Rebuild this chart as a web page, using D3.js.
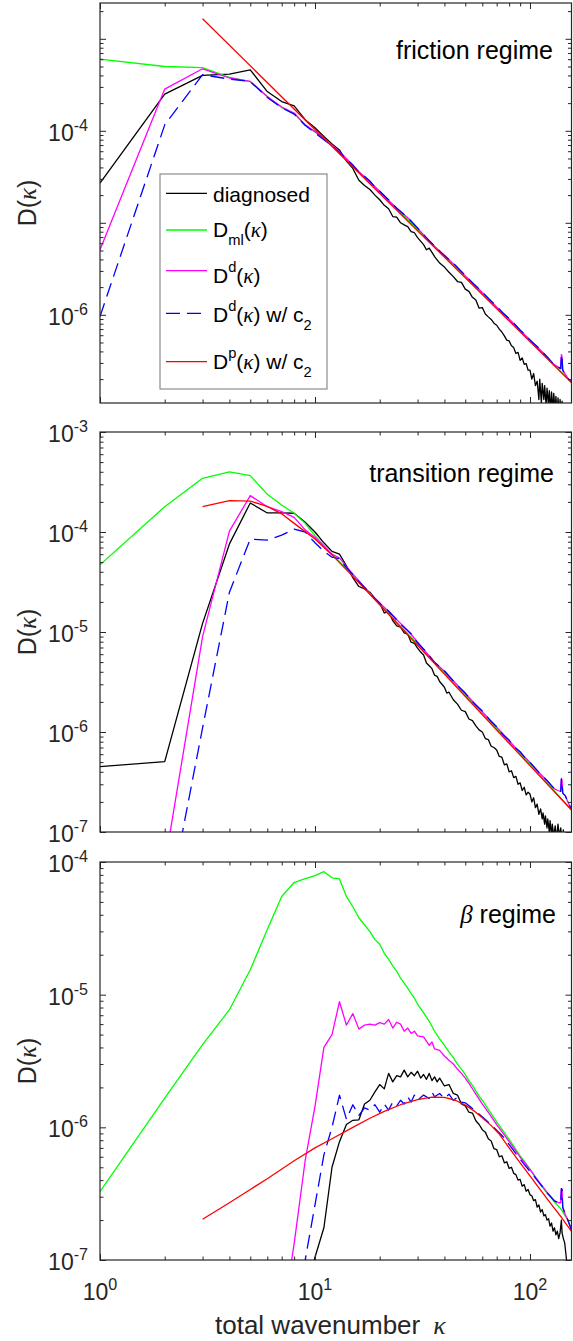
<!DOCTYPE html>
<html>
<head>
<meta charset="utf-8">
<title>D(kappa) spectra</title>
<script src="https://cdn.jsdelivr.net/npm/d3@7/dist/d3.min.js"></script>
<style>
  html, body { margin: 0; padding: 0; background: #fff; }
  #chart svg { display: block; }
  text { font-family: 'Liberation Sans', Arial, Helvetica, sans-serif; }
</style>
</head>
<body>
<div id="chart"></div>
<script>
// DATA  (each series is a list of [kappa, D(kappa)])
const kappa = '\u03ba'
const seriesNames = [
  'diagnosed',
  'D_{ml}(' + kappa + ')',
  'D^{d}(' + kappa + ')',
  'D^{d}(' + kappa + ') w/ c_{2}',
  'D^{p}(' + kappa + ') w/ c_{2}'
]
const regimeTitles = ['friction regime', 'transition regime', '\u03b2 regime']
const xDomain = [1, 156]
const xTickExponents = [0, 1, 2]
const frictionYDomain = [1.1e-7, 2.45e-3]
const transitionYDomain = [1e-7, 1e-3]
const betaYDomain = [1e-7, 1e-4]
const frictionYTickExponents = [-4, -6]
const transitionYTickExponents = [-3, -4, -5, -6, -7]
const betaYTickExponents = [-4, -5, -6, -7]

// friction regime
const frictionDiagnosed = [[1,2.7e-5],[2,2.5e-4],[3,4.0e-4],[4,4.13e-4],[5,4.6e-4],[6,2.67e-4],[7,2.08e-4],[8,1.87e-4],[9,1.32e-4],[10,1.08e-4],
  [11,8.7e-5],[12,7.2e-5],[13,6.2e-5],[14,4.7e-5],[15,3.9e-5],[16,2.9e-5],[17,2.55e-5],[18,2.3e-5],[19,2.0e-5],[20,1.78e-5],
  [21,1.55e-5],[22,1.42e-5],[23,1.17e-5],[24,1.15e-5],[25,1.0e-5],[26,9.5e-6],[27,9.1e-6],[28,8.0e-6],[29,7.8e-6],[30,6.9e-6],
  [32,5.8e-6],[33,5.1e-6],[34,5.3e-6],[36,4.3e-6],[38,3.65e-6],[40,3.3e-6],[42,2.9e-6],[44,2.6e-6],[46,2.3e-6],[48,2.25e-6],
  [50,1.9e-6],[52,1.8e-6],[54,1.55e-6],[56,1.45e-6],[58,1.18e-6],[60,1.2e-6],[62,1.02e-6],[64,9.5e-7],[66,8.9e-7],[68,8.1e-7],
  [70,7.7e-7],[72,7.0e-7],[74,6.5e-7],[76,5.9e-7],[78,5.3e-7],[80,5.2e-7],[82,4.6e-7],[84,4.4e-7],[86,3.8e-7],[88,3.9e-7],
  [90,3.2e-7],[92,3.4e-7],[94,2.9e-7],[96,2.95e-7],[98,2.5e-7],[100,2.5e-7],[102,2.0e-7],[104,2.3e-7],[106,1.7e-7],[108,1.9e-7],
  [110,1.2e-7],[111,2.0e-7],[113,1.1e-7],[114,1.8e-7],[116,1.2e-7],[117,1.7e-7],[119,1.0e-7],[120,1.6e-7],[122,1.05e-7],[123,1.5e-7],
  [125,9e-8],[126,1.45e-7],[128,9e-8],[129,1.4e-7],[131,8.5e-8],[132,1.3e-7],[134,8e-8],[135,1.25e-7],[137,8e-8],[138,1.2e-7],
  [140,7.5e-8],[141,1.15e-7],[143,7e-8],[146,8e-8],[150,6e-8],[156,5e-8]]
const frictionMl = [[1,6.0e-4],[2,5.0e-4],[3,4.87e-4],[4,3.8e-4],[5,3.42e-4],[6,2.34e-4],[7,1.79e-4],[8,1.54e-4],[9,1.15e-4],[10,9.7e-5],
  [12,6.9e-5],[15,4.15e-5],[20,2.15e-5],[30,8.5e-6],[50,2.6e-6],[100,5.2e-7],[156,1.84e-7]]
const frictionDd = [[1,5.1e-6],[2,2.84e-4],[3,4.72e-4],[4,3.75e-4],[5,3.44e-4],[6,2.36e-4],[7,1.81e-4],[8,1.56e-4],[9,1.16e-4],[10,9.8e-5],
  [11,8.2e-5],[12,7.0e-5],[13,5.9e-5],[14,5.0e-5],[15,4.2e-5],[16,3.6e-5],[18,2.8e-5],[20,2.2e-5],[22,1.75e-5],[24,1.45e-5],
  [26,1.22e-5],[28,1.05e-5],[30,8.7e-6],[33,6.9e-6],[36,5.5e-6],[40,4.45e-6],[45,3.4e-6],[50,2.65e-6],[55,2.15e-6],[60,1.75e-6],
  [65,1.45e-6],[70,1.22e-6],[75,1.05e-6],[80,9.0e-7],[85,7.8e-7],[90,6.85e-7],[95,6.0e-7],[100,5.35e-7],[110,4.3e-7],[120,3.5e-7],
  [128,2.95e-7],[132,2.8e-7],[136,2.68e-7],[139,2.6e-7],[140,3.7e-7],[141,3.5e-7],[142,2.5e-7],[146,2.25e-7],[150,2.05e-7],[156,1.84e-7]]
const frictionDdC2 = [[1,9.6e-7],[2,1.16e-4],[3,4.07e-4],[4,3.65e-4],[5,3.44e-4],[6,2.3e-4],[7,1.78e-4],[8,1.52e-4],[9,1.15e-4],[10,9.5e-5],
  [11,8.0e-5],[12,6.9e-5],[13,5.8e-5],[14,5.0e-5],[15,4.25e-5],[16,3.55e-5],[17,3.2e-5],[18,2.85e-5],[19,2.45e-5],[20,2.2e-5],
  [22,1.78e-5],[24,1.44e-5],[26,1.23e-5],[28,1.04e-5],[30,8.8e-6],[33,6.85e-6],[36,5.6e-6],[40,4.4e-6],[45,3.45e-6],[50,2.68e-6],
  [55,2.13e-6],[60,1.77e-6],[65,1.46e-6],[70,1.23e-6],[75,1.04e-6],[80,9.1e-7],[85,7.9e-7],[90,6.8e-7],[95,6.05e-7],[100,5.3e-7],
  [110,4.35e-7],[120,3.5e-7],[128,2.95e-7],[132,2.8e-7],[136,2.68e-7],[139,2.6e-7],[140,3.7e-7],[141,3.5e-7],[142,2.5e-7],[146,2.25e-7],
  [150,2.05e-7],[156,1.84e-7]]
const frictionDpC2 = [[3,1.65e-3],[156,1.84e-7]]

// transition regime
const transitionDiagnosed = [[1,4.5e-7],[2,5.05e-7],[3,1.22e-5],[4,7.6e-5],[5,1.95e-4],[6,1.55e-4],[7,1.55e-4],[8,1.54e-4],[9,1.25e-4],[10,1.0e-4],
  [11,7.8e-5],[12,6.4e-5],[13,6.0e-5],[14,4.6e-5],[15,3.5e-5],[16,2.85e-5],[17,2.7e-5],[18,2.5e-5],[19,2.15e-5],[20,1.95e-5],
  [21,1.55e-5],[22,1.6e-5],[23,1.3e-5],[24,1.15e-5],[25,1.12e-5],[26,9.8e-6],[27,9.5e-6],[28,7.9e-6],[29,7.7e-6],[30,6.9e-6],
  [31,6.3e-6],[32,5.9e-6],[33,4.9e-6],[34,4.6e-6],[35,4.3e-6],[36,3.7e-6],[37,3.6e-6],[38,3.2e-6],[40,2.8e-6],[41,2.45e-6],
  [42,2.5e-6],[44,2.1e-6],[46,1.9e-6],[48,1.65e-6],[50,1.6e-6],[52,1.35e-6],[54,1.3e-6],[56,1.15e-6],[58,1.05e-6],[60,1.0e-6],
  [62,8.6e-7],[64,8.4e-7],[66,7.2e-7],[68,7.0e-7],[70,6.6e-7],[72,5.7e-7],[74,5.6e-7],[76,4.7e-7],[78,4.8e-7],[80,4.0e-7],
  [82,4.1e-7],[84,3.5e-7],[86,3.6e-7],[88,3.0e-7],[90,3.1e-7],[92,2.6e-7],[94,2.8e-7],[96,2.35e-7],[98,2.5e-7],[100,2.4e-7],
  [102,2.0e-7],[104,2.2e-7],[106,1.75e-7],[108,1.9e-7],[110,1.5e-7],[112,1.7e-7],[114,1.35e-7],[115,1.55e-7],[117,1.2e-7],[118,1.45e-7],
  [120,1.1e-7],[121,1.35e-7],[123,1.0e-7],[124,1.3e-7],[126,9e-8],[127,1.2e-7],[129,9e-8],[131,1.15e-7],[133,8.5e-8],[135,1.2e-7],
  [137,9e-8],[139,1.1e-7],[141,8e-8],[143,1.05e-7],[145,7e-8],[150,6e-8],[156,5e-8]]
const transitionMl = [[1,4.7e-5],[2,1.79e-4],[3,3.44e-4],[4,4.0e-4],[5,3.66e-4],[6,2.38e-4],[7,1.86e-4],[8,1.54e-4],[9,1.22e-4],[10,9.2e-5],
  [12,6.0e-5],[15,3.7e-5],[20,1.9e-5],[30,7.6e-6],[50,2.35e-6],[100,4.8e-7],[156,1.66e-7]]
const transitionDd = [[2,4.7e-8],[3,9.0e-6],[4,1.02e-4],[5,2.31e-4],[6,1.79e-4],[7,1.6e-4],[8,1.4e-4],[9,1.05e-4],[10,8.8e-5],
  [11,7.2e-5],[12,6.0e-5],[13,5.5e-5],[14,4.5e-5],[16,3.25e-5],[18,2.45e-5],[20,1.95e-5],[22,1.6e-5],[25,1.22e-5],[28,9.5e-6],
  [30,7.9e-6],[33,6.2e-6],[36,5.0e-6],[40,4.05e-6],[45,3.1e-6],[50,2.42e-6],[55,1.95e-6],[60,1.6e-6],[65,1.33e-6],[70,1.12e-6],
  [75,9.5e-7],[80,8.2e-7],[85,7.1e-7],[90,6.3e-7],[95,5.55e-7],[100,4.95e-7],[110,3.95e-7],[120,3.25e-7],[130,2.7e-7],[135,2.6e-7],
  [139,2.55e-7],[140,3.4e-7],[141,3.3e-7],[142,2.45e-7],[146,2.3e-7],[150,2.0e-7],[156,1.68e-7]]
const transitionDdC2 = [[2,1.2e-8],[3,1.1e-6],[4,2.5e-5],[5,8.5e-5],[6,8.3e-5],[7,9.3e-5],[8,1.07e-4],[9,1.0e-4],[10,7.8e-5],
  [11,6.4e-5],[12,5.6e-5],[13,5.4e-5],[14,4.4e-5],[15,3.75e-5],[16,3.2e-5],[18,2.45e-5],[20,1.93e-5],[22,1.62e-5],[25,1.2e-5],
  [28,9.6e-6],[30,7.8e-6],[33,6.3e-6],[36,4.95e-6],[40,4.1e-6],[45,3.05e-6],[50,2.45e-6],[55,1.93e-6],[60,1.62e-6],[65,1.32e-6],
  [70,1.13e-6],[75,9.4e-7],[80,8.3e-7],[85,7.0e-7],[90,6.35e-7],[95,5.5e-7],[100,4.98e-7],[110,3.95e-7],[120,3.27e-7],[130,2.7e-7],
  [135,2.6e-7],[139,2.55e-7],[140,3.4e-7],[141,3.3e-7],[142,2.45e-7],[146,2.3e-7],[150,2.0e-7],[156,1.68e-7]]
const transitionDpC2 = [[3,1.79e-4],[4,2.06e-4],[5,2.04e-4],[6,1.8e-4],[7,1.52e-4],[8,1.22e-4],[10,8.5e-5],[12,5.9e-5],[15,3.6e-5],
  [20,1.87e-5],[156,1.66e-7]]

// beta regime
const betaDiagnosed = [[9,5e-8],[10,1.05e-7],[11,1.75e-7],[12,5.0e-7],[13,7.8e-7],[14,1.05e-6],[15,1.13e-6],[16,1.14e-6],[17,1.5e-6],[18,1.6e-6],
  [19,1.85e-6],[20,2.1e-6],[21,1.95e-6],[22,2.55e-6],[23,2.2e-6],[24,2.45e-6],[25,2.4e-6],[26,2.7e-6],[27,2.4e-6],[28,2.6e-6],
  [29,2.45e-6],[30,2.65e-6],[31,2.35e-6],[32,2.5e-6],[33,2.3e-6],[34,2.55e-6],[35,2.25e-6],[36,2.4e-6],[37,2.2e-6],[38,2.35e-6],
  [40,2.05e-6],[42,2.1e-6],[44,1.8e-6],[46,1.75e-6],[48,1.5e-6],[50,1.45e-6],[52,1.3e-6],[54,1.28e-6],[56,1.12e-6],[58,1.05e-6],
  [60,9.6e-7],[62,9.2e-7],[64,8.2e-7],[66,7.9e-7],[68,6.9e-7],[70,6.8e-7],[72,6.0e-7],[74,6.1e-7],[76,5.4e-7],[78,5.5e-7],
  [80,4.9e-7],[82,5.0e-7],[84,4.5e-7],[86,4.4e-7],[88,4.0e-7],[90,4.05e-7],[92,3.6e-7],[94,3.7e-7],[96,3.3e-7],[98,3.4e-7],
  [100,3.1e-7],[102,3.05e-7],[104,2.8e-7],[106,2.85e-7],[108,2.5e-7],[110,2.6e-7],[112,2.3e-7],[114,2.4e-7],[116,2.15e-7],[118,2.2e-7],
  [120,2.0e-7],[122,2.05e-7],[124,1.8e-7],[126,1.9e-7],[128,1.65e-7],[130,1.75e-7],[132,1.55e-7],[134,1.65e-7],[136,1.45e-7],[138,1.6e-7],
  [140,2.0e-7],[141,1.6e-7],[143,1.45e-7],[145,1.35e-7],[147,1.1e-7],[149,9e-8],[152,7e-8],[156,6e-8]]
const betaMl = [[1,3.27e-7],[2,1.66e-6],[3,4.2e-6],[4,7.7e-6],[5,1.54e-5],[6,3.1e-5],[7,5.5e-5],[8,7.0e-5],[9,7.5e-5],[10,7.9e-5],
  [11,8.45e-5],[12,7.6e-5],[13,7.45e-5],[14,5.5e-5],[15,4.6e-5],[16,3.8e-5],[17,3.35e-5],[18,3.0e-5],[19,2.6e-5],[20,2.4e-5],
  [21,2.05e-5],[22,1.85e-5],[23,1.65e-5],[24,1.5e-5],[25,1.33e-5],[26,1.22e-5],[27,1.12e-5],[28,1.02e-5],[29,9.4e-6],[30,8.5e-6],
  [32,7.3e-6],[34,6.3e-6],[36,5.3e-6],[38,4.65e-6],[40,4.15e-6],[42,3.7e-6],[44,3.35e-6],[46,3.0e-6],[48,2.75e-6],[50,2.5e-6],
  [52,2.25e-6],[54,2.07e-6],[56,1.88e-6],[58,1.72e-6],[60,1.6e-6],[63,1.42e-6],[66,1.27e-6],[70,1.1e-6],[75,9.4e-7],[80,8.1e-7],
  [85,7.0e-7],[90,6.1e-7],[95,5.45e-7],[100,4.85e-7],[110,3.85e-7],[120,3.2e-7],[130,2.75e-7],[140,2.4e-7],[150,2.0e-7],[156,1.68e-7]]
const betaDd = [[7,3.2e-8],[8,1.33e-7],[9,5.6e-7],[10,1.44e-6],[11,4.0e-6],[12,5.0e-6],[13,8.85e-6],[14,5.9e-6],[15,7.2e-6],[16,5.5e-6],
  [17,5.9e-6],[18,6.0e-6],[19,5.9e-6],[20,6.15e-6],[21,6.0e-6],[22,6.5e-6],[23,5.6e-6],[24,6.2e-6],[25,6.0e-6],[26,5.3e-6],
  [27,5.6e-6],[28,5.1e-6],[29,5.3e-6],[30,4.9e-6],[32,4.8e-6],[34,4.15e-6],[35,4.4e-6],[36,3.9e-6],[38,3.8e-6],[40,3.45e-6],
  [42,3.2e-6],[44,3.0e-6],[46,2.75e-6],[48,2.55e-6],[50,2.35e-6],[53,2.05e-6],[56,1.78e-6],[60,1.5e-6],[65,1.25e-6],[70,1.05e-6],
  [75,9.0e-7],[80,7.8e-7],[85,6.8e-7],[90,5.95e-7],[95,5.35e-7],[100,4.8e-7],[110,3.9e-7],[120,3.25e-7],[130,2.8e-7],[136,2.7e-7],
  [139,2.7e-7],[140,3.45e-7],[141,3.4e-7],[142,2.5e-7],[146,2.2e-7],[150,2.0e-7],[156,1.68e-7]]
const betaDdC2 = [[8,2e-8],[9,1.0e-7],[10,2.6e-7],[11,6.2e-7],[12,1.0e-6],[13,1.75e-6],[14,1.15e-6],[15,1.48e-6],[16,1.23e-6],[17,1.4e-6],
  [18,1.35e-6],[19,1.48e-6],[20,1.3e-6],[21,1.5e-6],[22,1.35e-6],[23,1.55e-6],[24,1.45e-6],[25,1.6e-6],[26,1.5e-6],[27,1.7e-6],
  [28,1.55e-6],[29,1.75e-6],[30,1.6e-6],[32,1.75e-6],[34,1.65e-6],[35,1.85e-6],[36,1.7e-6],[38,1.8e-6],[40,1.65e-6],[42,1.78e-6],
  [44,1.6e-6],[46,1.68e-6],[48,1.55e-6],[50,1.53e-6],[53,1.42e-6],[56,1.32e-6],[60,1.2e-6],[65,1.07e-6],[70,9.5e-7],[75,8.5e-7],
  [80,7.4e-7],[85,6.5e-7],[90,5.75e-7],[95,5.15e-7],[100,4.65e-7],[110,3.85e-7],[120,3.22e-7],[130,2.78e-7],[136,2.7e-7],[139,2.7e-7],
  [140,3.45e-7],[141,3.4e-7],[142,2.5e-7],[146,2.2e-7],[150,2.0e-7],[156,1.68e-7]]
const betaDpC2 = [[3,2.03e-7],[4,2.7e-7],[5,3.4e-7],[6,4.1e-7],[8,5.6e-7],[10,7.0e-7],[12,8.2e-7],[15,1.0e-6],[18,1.17e-6],[21,1.32e-6],
  [25,1.48e-6],[30,1.62e-6],[35,1.69e-6],[40,1.68e-6],[45,1.6e-6],[50,1.47e-6],[55,1.33e-6],[60,1.18e-6],[66,1.03e-6],[72,8.9e-7],
  [80,7.0e-7],[90,5.4e-7],[100,4.3e-7],[110,3.5e-7],[120,2.9e-7],[130,2.45e-7],[140,2.1e-7],[148,1.85e-7],[156,1.64e-7]]

// LAYOUT
let width = 573
let height = 1341
let margins = { left: 100, right: 1.5 }

let seriesStyles = [
  { color: '#000000', dash: null },
  { color: '#00ff00', dash: null },
  { color: '#ff00ff', dash: null },
  { color: '#0000ff', dash: '14,7' },
  { color: '#ff0000', dash: null }
]

let panels = [
  { top: 3, bottom: 403, titleX: 553, titleY: 59, yDomain: frictionYDomain, yExponents: frictionYTickExponents,
    series: [frictionDiagnosed, frictionMl, frictionDd, frictionDdC2, frictionDpC2] },
  { top: 432, bottom: 832, titleX: 554, titleY: 482, yDomain: transitionYDomain, yExponents: transitionYTickExponents,
    series: [transitionDiagnosed, transitionMl, transitionDd, transitionDdC2, transitionDpC2] },
  { top: 862, bottom: 1260, titleX: 556, titleY: 923, yDomain: betaYDomain, yExponents: betaYTickExponents,
    series: [betaDiagnosed, betaMl, betaDd, betaDdC2, betaDpC2] }
]

let legendRows = [
  { lineY: 193.3, textY: 201.7 },
  { lineY: 230, textY: 236.7 },
  { lineY: 270.7, textY: 282.7 },
  { lineY: 313.3, textY: 321.7 },
  { lineY: 361.7, textY: 369.3 }
]

let axisColor = '#262626'
let tickFont = 23

// TEXT HELPERS
// tiny tex-like parser: _{..} subscript, ^{..} superscript, greek letters in italic serif
function richText(textSel, str, size) {
  let parts = str.split(/(_\{[^}]*\}|\^\{[^}]*\}|[\u03ba\u03b2])/).filter(s => s.length)
  let shift = 0
  parts.forEach(part => {
    let t = textSel.append('tspan')
    let target = 0, content = part, small = false
    if (part[0] === '_') { target = 0.38 * size; content = part.slice(2, -1); small = true }
    else if (part[0] === '^') { target = -0.52 * size; content = part.slice(2, -1); small = true }
    if (target - shift !== 0) t.attr('dy', target - shift)
    shift = target
    if (small) t.attr('font-size', size * 0.7)
    if (part === '\u03ba' || part === '\u03b2') {
      t.attr('font-family', "'Liberation Serif', 'DejaVu Serif', serif").attr('font-style', 'italic')
    }
    t.text(content)
  })
}

function powerLabel(textSel, exponent, size) {
  textSel.append('tspan').text('10')
  textSel.append('tspan').attr('dy', -0.43 * size).attr('font-size', size * 0.7).text(String(exponent))
}

// DRAW FUNCTIONS
let svg = d3.select('#chart').append('svg')
  .attr('width', width)
  .attr('height', height)

let xScale = d3.scaleLog()
  .domain(xDomain)
  .range([margins.left, width - margins.right])

function decadeTicks(domain) {
  let major = [], minor = []
  let lo = Math.floor(Math.log10(domain[0])), hi = Math.ceil(Math.log10(domain[1]))
  for (let d = lo; d <= hi; d++) {
    for (let m = 1; m <= 9; m++) {
      let v = m * Math.pow(10, d)
      if (v < domain[0] * 0.999 || v > domain[1] * 1.001) continue
      if (m === 1) major.push(v)
      else minor.push(v)
    }
  }
  return { major, minor }
}

function drawTicks(panel, yScale) {
  let x0 = xScale.range()[0], x1 = xScale.range()[1]
  let yt = decadeTicks(panel.yDomain)
  let xt = decadeTicks(xDomain)
  let axes = [
    [d3.axisLeft(yScale), `translate(${x0},0)`, yt],
    [d3.axisRight(yScale), `translate(${x1},0)`, yt],
    [d3.axisBottom(xScale), `translate(0,${panel.bottom})`, xt],
    [d3.axisTop(xScale), `translate(0,${panel.top})`, xt]
  ]
  axes.forEach(([axis, tr, ticks]) => {
    [[ticks.major, 6], [ticks.minor, 3.5]].forEach(([vals, len]) => {
      let g = svg.append('g')
        .attr('transform', tr)
        .call(axis.tickValues(vals).tickSize(-len).tickFormat(''))
      g.select('.domain').remove()
      g.selectAll('line').attr('stroke', axisColor).attr('stroke-width', 1)
    })
  })
}

function drawPanel(panel, i) {
  let yScale = d3.scaleLog()
    .domain(panel.yDomain)
    .range([panel.bottom, panel.top])

  let x0 = xScale.range()[0], x1 = xScale.range()[1]
  let clipId = 'plot-clip-' + i
  svg.append('defs').append('clipPath').attr('id', clipId)
    .append('rect')
    .attr('x', x0).attr('y', panel.top)
    .attr('width', x1 - x0).attr('height', panel.bottom - panel.top)

  let plotLine = d3.line()
    .x(d => xScale(d[0]))
    .y(d => yScale(d[1]))

  let lines = svg.append('g').attr('clip-path', `url(#${clipId})`)
  panel.series.forEach((data, j) => {
    lines.append('path')
      .datum(data)
      .attr('d', plotLine)
      .attr('fill', 'none')
      .attr('stroke', seriesStyles[j].color)
      .attr('stroke-width', 1.3)
      .attr('stroke-linejoin', 'round')
      .attr('stroke-dasharray', seriesStyles[j].dash)
  })

  drawTicks(panel, yScale)

  svg.append('rect')
    .attr('x', x0).attr('y', panel.top)
    .attr('width', x1 - x0).attr('height', panel.bottom - panel.top)
    .attr('fill', 'none')
    .attr('stroke', axisColor)
    .attr('stroke-width', 1.2)

  panel.yExponents.forEach(e => {
    let t = svg.append('text')
      .attr('x', 88)
      .attr('y', yScale(Math.pow(10, e)) + 10)
      .attr('text-anchor', 'end')
      .attr('font-size', tickFont)
      .attr('fill', axisColor)
    powerLabel(t, e, tickFont)
  })

  let yLabel = svg.append('text')
    .attr('transform', `translate(36,${(panel.top + panel.bottom) / 2}) rotate(-90)`)
    .attr('text-anchor', 'middle')
    .attr('font-size', 25)
    .attr('fill', axisColor)
  richText(yLabel, 'D(' + kappa + ')', 25)

  let title = svg.append('text')
    .attr('x', panel.titleX)
    .attr('y', panel.titleY)
    .attr('text-anchor', 'end')
    .attr('font-size', 25)
    .attr('fill', '#000')
  richText(title, regimeTitles[i], 25)
}

function drawLegend() {
  let g = svg.append('g')
  g.append('rect')
    .attr('x', 160).attr('y', 174)
    .attr('width', 167).attr('height', 215)
    .attr('fill', '#fff')
    .attr('stroke', '#8c8c8c')
    .attr('stroke-width', 1.2)
  legendRows.forEach((row, j) => {
    g.append('line')
      .attr('x1', 166).attr('x2', 207)
      .attr('y1', row.lineY).attr('y2', row.lineY)
      .attr('stroke', seriesStyles[j].color)
      .attr('stroke-width', 1.3)
      .attr('stroke-dasharray', seriesStyles[j].dash)
    let t = g.append('text')
      .attr('x', 213).attr('y', row.textY)
      .attr('font-size', 21)
      .attr('fill', '#000')
    richText(t, seriesNames[j], 21)
  })
}

function drawXAxisLabels() {
  let bottom = panels[panels.length - 1].bottom
  xTickExponents.forEach(e => {
    let t = svg.append('text')
      .attr('x', xScale(Math.pow(10, e)))
      .attr('y', bottom + 40)
      .attr('text-anchor', 'middle')
      .attr('font-size', tickFont)
      .attr('fill', axisColor)
    powerLabel(t, e, tickFont)
  })
  let label = svg.append('text')
    .attr('x', 215)
    .attr('y', bottom + 74)
    .attr('font-size', 26)
    .attr('fill', axisColor)
  label.append('tspan').text('total wavenumber')
  label.append('tspan')
    .attr('dx', 13)
    .attr('font-family', "'Liberation Serif', 'DejaVu Serif', serif")
    .attr('font-style', 'italic')
    .text(kappa)
}

panels.forEach((panel, i) => drawPanel(panel, i))
drawLegend()
drawXAxisLabels()
</script>
</body>
</html>
